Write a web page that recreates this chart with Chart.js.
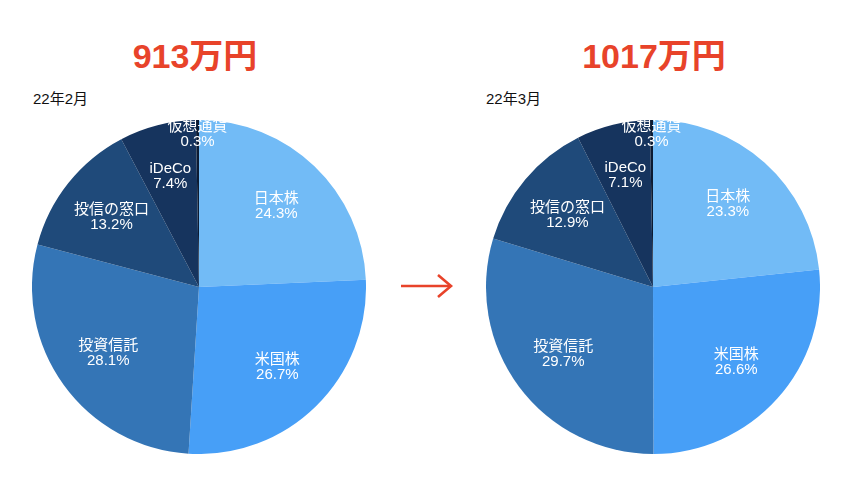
<!DOCTYPE html>
<html lang="ja">
<head>
<meta charset="utf-8">
<script src="https://cdn.jsdelivr.net/npm/chart.js@4"></script>
<style>
  body { margin: 0; background: #fff; font-family: "Liberation Sans", "Noto Sans CJK JP", sans-serif; }
  #page { position: relative; width: 862px; height: 478px; }
  .total { position: absolute; top: 29px; width: 300px; text-align: center; color: #E8432A;
    font-size: 34px; font-weight: bold; font-family: "Liberation Sans", "Noto Sans CJK JP", sans-serif; }
  .month { position: absolute; top: 87px; font-size: 15px; color: #111; }
  .pie { position: absolute; top: 120px; width: 334px; height: 334px; }
  #arrow { position: absolute; left: 400px; top: 274px; }
</style>
</head>
<body>
<div id="page">
  <div class="total" style="left:45px">913万円</div>
  <div class="total" style="left:504px">1017万円</div>
  <div class="month" style="left:33px">22年2月</div>
  <div class="month" style="left:486px">22年3月</div>
  <div class="pie" style="left:32px"><canvas id="pieFeb"></canvas></div>
  <div class="pie" style="left:486px"><canvas id="pieMar"></canvas></div>
  <svg id="arrow" width="56" height="24" viewBox="0 0 56 24">
    <line x1="1" y1="12" x2="51" y2="12" stroke="#E8432A" stroke-width="2.6"/>
    <polyline points="38,1 51,12 38,23" fill="none" stroke="#E8432A" stroke-width="2.6"/>
  </svg>
</div>
<script>
const categories = ["日本株", "米国株", "投資信託", "投信の窓口", "iDeCo", "仮想通貨"];
const febShares = [24.3, 26.7, 28.1, 13.2, 7.4, 0.3];
const marShares = [23.3, 26.6, 29.7, 12.9, 7.1, 0.3];

const sliceColors = ["#72BBF6", "#479FF7", "#3475B6", "#1F4A7A", "#16345E", "#0C1B33"];
// how far out (fraction of radius) each label sits
const labelRadius = [0.67, 0.67, 0.67, 0.67, 0.69, 0.92];

const sliceLabels = {
  id: "sliceLabels",
  afterDatasetsDraw(chart) {
    const ctx = chart.ctx;
    const meta = chart.getDatasetMeta(0);
    const values = chart.data.datasets[0].data;
    ctx.save();
    ctx.fillStyle = "#fff";
    ctx.textAlign = "center";
    ctx.textBaseline = "middle";
    ctx.font = '15px "Liberation Sans", "Noto Sans CJK JP", sans-serif';
    meta.data.forEach((arc, i) => {
      const a = (arc.startAngle + arc.endAngle) / 2;
      const r = arc.outerRadius * labelRadius[i];
      const x = arc.x + Math.cos(a) * r;
      const y = arc.y + Math.sin(a) * r;
      ctx.fillText(chart.data.labels[i], x, y - 7);
      ctx.fillText(values[i].toFixed(1) + "%", x, y + 8);
    });
    ctx.restore();
  },
};

function makePie(id, values) {
  const ctx = document.getElementById(id).getContext("2d");
  return new Chart(ctx, {
    type: "pie",
    data: {
      labels: categories,
      datasets: [
        {
          data: values,
          backgroundColor: sliceColors,
          borderWidth: 0,
        },
      ],
    },
    options: {
      responsive: true,
      maintainAspectRatio: false,
      animation: false,
      layout: { padding: 0 },
      plugins: {
        legend: { display: false },
        tooltip: { enabled: false },
      },
    },
    plugins: [sliceLabels],
  });
}

makePie("pieFeb", febShares);
makePie("pieMar", marShares);
</script>
</body>
</html>
